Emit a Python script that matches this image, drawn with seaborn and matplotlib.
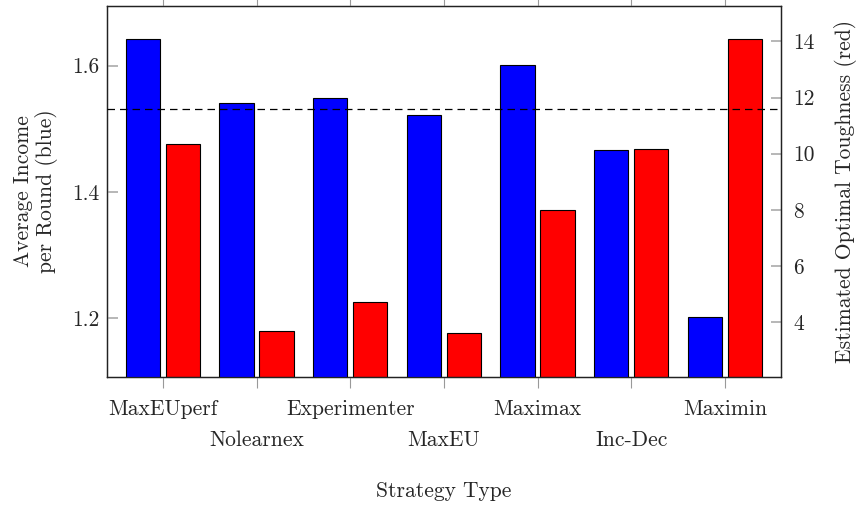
import numpy as np
import pandas as pd
import seaborn as sns
import matplotlib.pyplot as plt

# values
strategies = ['MaxEUperf', 'Nolearnex', 'Experimenter', 'MaxEU', 'Maximax', 'Inc-Dec', 'Maximin']
income = [1.642, 1.541, 1.549, 1.521, 1.601, 1.467, 1.201]      # blue, left axis
toughness = [10.35, 3.68, 4.72, 3.62, 8.0, 10.17, 14.07]         # red, right axis
ref_line = 1.5316

sns.set_style('white')
plt.rcParams['font.family'] = ['cmr10', 'DejaVu Serif']
plt.rcParams['mathtext.fontset'] = 'cm'
plt.rcParams['axes.formatter.use_mathtext'] = True
FS = 15.5

W, H = 867, 507
fig = plt.figure(figsize=(W / 100, H / 100), dpi=100)
fig.subplots_adjust(left=106.7 / W, right=781 / W, top=1 - 5.7 / H, bottom=1 - 377.3 / H)
ax = fig.add_subplot(111)
ax2 = ax.twinx()

pos = np.arange(len(strategies))
shift, bw = 0.214, 0.368
df = pd.DataFrame({'pos': pos, 'income': income, 'tough': toughness})

sns.barplot(x=df.pos - shift, y=df.income, native_scale=True, width=bw, color='#0000ff',
            saturation=1, edgecolor='black', linewidth=0.8, ax=ax, zorder=2)
sns.barplot(x=df.pos + shift, y=df.tough, native_scale=True, width=bw, color='#ff0000',
            saturation=1, edgecolor='black', linewidth=0.8, ax=ax2, zorder=2)

ax.set_xlim(-0.6, 6.6)
ax.set_ylim(1.106, 1.695)
ax2.set_ylim(2.04, 15.27)
ax.axhline(ref_line, color='black', lw=0.9, ls=(0, (6, 4)), zorder=5)

ax.set_yticks([1.2, 1.4, 1.6])
ax.set_yticklabels(['1.2', '1.4', '1.6'])
ax2.set_yticks([4, 6, 8, 10, 12, 14])
ax2.set_yticklabels([str(v) for v in [4, 6, 8, 10, 12, 14]])

ax.set_xticks(pos)
ax.set_xticklabels(strategies)
ax2.set_xticks(pos)
ax.tick_params(axis='x', direction='out', length=8, color='#999999', width=0.8,
               top=True, bottom=True, labelsize=FS, pad=8)
ax2.tick_params(axis='x', direction='out', length=8, color='#999999', width=0.8, top=True)
ax.tick_params(axis='y', direction='in', length=8, color='#aaaaaa', width=1.2,
               left=True, right=False, labelsize=FS, pad=5)
ax2.tick_params(axis='y', direction='in', length=7, color='#aaaaaa', width=1.2,
                right=True, left=False, labelsize=FS, pad=9)
for t in ax.xaxis.get_major_ticks()[1::2]:
    t.set_pad(30)

ax.set_xlabel('')
ax.set_ylabel('Average Income\nper Round (blue)', fontsize=FS, labelpad=10, linespacing=1.15)
ax2.set_ylabel('Estimated Optimal Toughness (red)', fontsize=FS, labelpad=14)
fig.text((106.7 + 781) / 2 / W, 1 - 491 / H, 'Strategy Type', ha='center', va='center', fontsize=FS)

for a in (ax, ax2):
    for s in a.spines.values():
        s.set_color('#222222')
        s.set_linewidth(0.9)
ax.set_zorder(ax2.get_zorder() + 1)
ax.patch.set_visible(False)

fig.savefig('out.png', dpi=100)
